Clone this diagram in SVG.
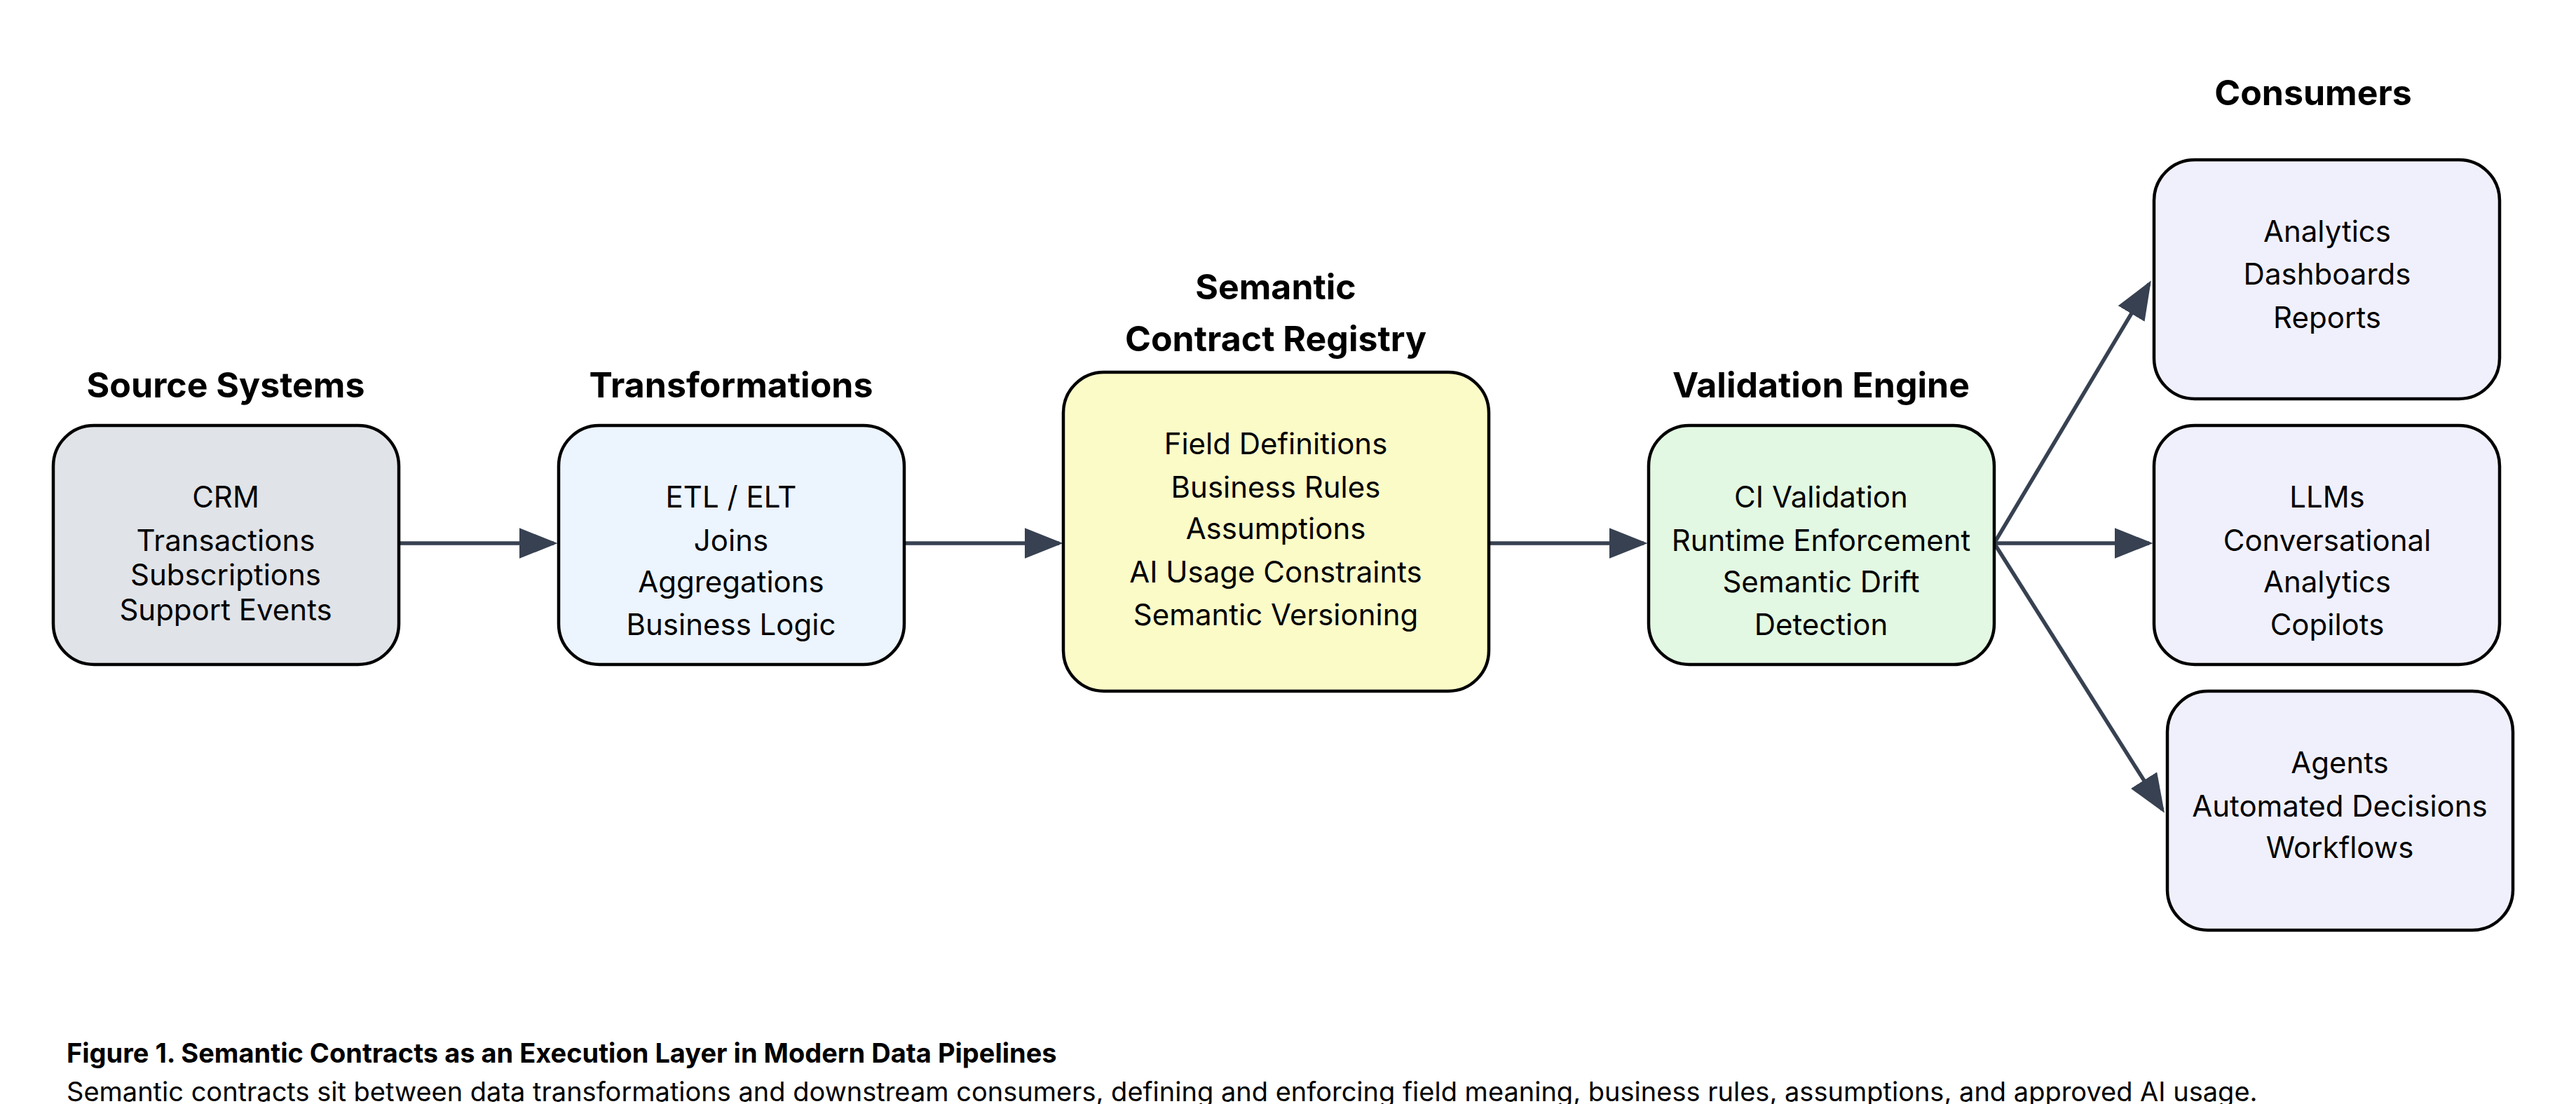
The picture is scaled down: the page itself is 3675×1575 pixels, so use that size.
<svg xmlns="http://www.w3.org/2000/svg" width="3675" height="1575" viewBox="0 0 3675 1575">
<style>
text{font-family:Inter,"Liberation Sans",sans-serif;fill:#000;text-anchor:middle}
.t{font-size:50px;font-weight:700}
.n{font-size:42px}
.box{stroke:#000;stroke-width:4.5}
.c{stroke:#374151;stroke-width:5.5;fill:none;marker-end:url(#ah)}
.cap{text-anchor:start;font-size:38px}
</style>
<defs><marker id="ah" markerWidth="10" markerHeight="8" refX="9" refY="4" orient="auto" markerUnits="strokeWidth"><path d="M0,0L10,4L0,8z" fill="#374151"/></marker></defs>
<rect width="3675" height="1575" fill="#fff"/>
<g id="connectors">
<line class="c" x1="569" y1="775" x2="790" y2="775"/>
<line class="c" x1="1290" y1="775" x2="1511" y2="775"/>
<line class="c" x1="2124" y1="775" x2="2345" y2="775"/>
<line class="c" x1="2845" y1="775" x2="3066" y2="405"/>
<line class="c" x1="2845" y1="775" x2="3066" y2="775"/>
<line class="c" x1="2845" y1="775" x2="3085" y2="1155"/>
</g>
<g id="source">
<text class="t" x="322" y="567">Source Systems</text>
<rect class="box" x="76" y="607" width="493" height="341" rx="58" fill="#e0e3e7"/>
<text class="n" x="322" y="724">CRM</text><text class="n" x="322" y="786">Transactions</text><text class="n" x="322" y="835">Subscriptions</text><text class="n" x="322" y="885">Support Events</text>
</g>
<g id="transformations">
<text class="t" x="1043" y="567">Transformations</text>
<rect class="box" x="797" y="607" width="493" height="341" rx="58" fill="#ecf4fe"/>
<text class="n" x="1043" y="724">ETL / ELT</text><text class="n" x="1043" y="786">Joins</text><text class="n" x="1043" y="845">Aggregations</text><text class="n" x="1043" y="906">Business Logic</text>
</g>
<g id="registry">
<text class="t" x="1820" y="427">Semantic</text><text class="t" x="1820" y="501">Contract Registry</text>
<rect class="box" x="1517" y="531" width="607" height="455" rx="58" fill="#fbfbc8"/>
<text class="n" x="1820" y="648">Field Definitions</text><text class="n" x="1820" y="710">Business Rules</text><text class="n" x="1820" y="769">Assumptions</text><text class="n" x="1820" y="831">AI Usage Constraints</text><text class="n" x="1820" y="892">Semantic Versioning</text>
</g>
<g id="validation">
<text class="t" x="2598" y="567">Validation Engine</text>
<rect class="box" x="2352" y="607" width="493" height="341" rx="58" fill="#e2f8e2"/>
<text class="n" x="2598" y="724">CI Validation</text><text class="n" x="2598" y="786">Runtime Enforcement</text><text class="n" x="2598" y="845">Semantic Drift</text><text class="n" x="2598" y="906">Detection</text>
</g>
<text class="t" x="3300" y="150">Consumers</text>
<g id="consumer1">
<rect class="box" x="3073" y="228" width="493" height="341" rx="58" fill="#f0f0fc"/>
<text class="n" x="3320" y="345">Analytics</text><text class="n" x="3320" y="406">Dashboards</text><text class="n" x="3320" y="468">Reports</text>
</g>
<g id="consumer2">
<rect class="box" x="3073" y="607" width="493" height="341" rx="58" fill="#f0f0fc"/>
<text class="n" x="3320" y="724">LLMs</text><text class="n" x="3320" y="786">Conversational</text><text class="n" x="3320" y="845">Analytics</text><text class="n" x="3320" y="906">Copilots</text>
</g>
<g id="consumer3">
<rect class="box" x="3092" y="986" width="493" height="341" rx="58" fill="#f0f0fc"/>
<text class="n" x="3338" y="1103">Agents</text><text class="n" x="3338" y="1165">Automated Decisions</text><text class="n" x="3338" y="1224">Workflows</text>
</g>
<text class="cap" x="95" y="1516" font-weight="700">Figure 1. Semantic Contracts as an Execution Layer in Modern Data Pipelines</text>
<text class="cap" x="95" y="1577" dy="-6">Semantic contracts sit between data transformations and downstream consumers, defining and enforcing field meaning, business rules, assumptions, and approved AI usage.</text>
</svg>
